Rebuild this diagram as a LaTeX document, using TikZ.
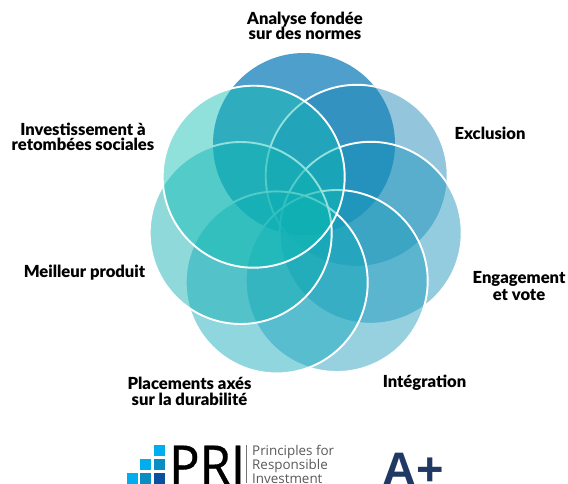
\documentclass[tikz,border=0pt]{standalone}
\usepackage{fontspec}
\setmainfont{Lato}[BoldFont={Lato Black}]
\newfontfamily\logofont{Open Sans}
\newfontfamily\prifont[FakeBold=0.6,FakeStretch=0.92]{Open Sans}
\newfontfamily\markfont{Liberation Sans}
\definecolor{cTop}{HTML}{4E9FCB}
\definecolor{cExcl}{HTML}{1483B5}
\definecolor{cEng}{HTML}{1492B9}
\definecolor{cInt}{HTML}{1D9BBC}
\definecolor{cPla}{HTML}{0EA6BA}
\definecolor{cMei}{HTML}{0CADB1}
\definecolor{cInv}{HTML}{0EBCB3}
\definecolor{sqA}{HTML}{00AEEF}
\definecolor{sqB}{HTML}{0A8CC4}
\definecolor{sqC}{HTML}{0B4FA0}
\definecolor{navy}{HTML}{1F3864}
\tikzset{
  petal/.style={circle,minimum size=182pt,inner sep=0pt,outer sep=0pt,draw=white,line width=1.9pt,fill=#1,fill opacity=.46},
  toppetal/.style={circle,minimum size=182pt,inner sep=0pt,outer sep=0pt,fill=cTop},
  lab/.style={font=\fontsize{16.6}{15.5}\bfseries,align=center,inner sep=0pt,text=black},
  sq/.style={minimum size=11pt,inner sep=0pt,outer sep=0pt,fill=#1},
  logotext/.style={font=\logofont\fontsize{13.4}{14}\selectfont,text=black!65,align=left,anchor=north west,inner sep=0pt}
}
\begin{document}
\begin{tikzpicture}[x=1pt,y=-1pt]
\useasboundingbox (0,0) rectangle (568,483);
\clip (0,0) rectangle (568,483);
\fill[white] (0,0) rectangle (568,483);
\node[toppetal] (ctop) at (304,144) {};
\node[petal=cExcl] (cexcl) at (356.7,175.8) {};
\node[petal=cEng] (ceng) at (370.7,232.8) {};
\node[petal=cInt] (cint) at (336.7,281) {};
\node[petal=cPla] (cpla) at (276.7,282.4) {};
\node[petal=cMei] (cmei) at (240.7,233) {};
\node[petal=cInv] (cinv) at (253.7,176.7) {};
\node[lab] (tana) at (305,26) {Analyse fondée\\sur des normes};
\node[lab] (texc) at (490,133) {Exclusion};
\node[lab] (tinv) at (83,137) {Investissement à\\retombées sociales};
\node[lab] (tmei) at (84.5,273) {Meilleur produit};
\node[lab] (tpla) at (189.5,391.5) {Placements axés\\sur la durabilité};
\node[lab] (tint) at (424.5,383) {Intégration};
\node[lab] (teng) at (519,286) {Engagement\\[2pt]et vote};
\node[sq=sqA] (s1) at (159.7,450) {};
\node[sq=sqA] (s2) at (145.8,464) {};
\node[sq=sqB] (s3) at (159.7,464) {};
\node[sq=sqA] (s4) at (132,478) {};
\node[sq=sqB] (s5) at (145.8,478) {};
\node[sq=sqC] (s6) at (159.7,478) {};
\node[font=\prifont\fontsize{55}{55}\selectfont,anchor=base west,inner sep=0pt] (pri) at (169,485) {PRI};
\draw[black!55,line width=.7pt] (246.7,445) -- (246.7,483);
\node[logotext] (ptext) at (252,445) {Principles for\\Responsible\\Investment};
\node[font=\markfont\bfseries\fontsize{47}{47}\selectfont,text=navy,anchor=base west,inner sep=0pt] (grade) at (382,485) {A+};
\end{tikzpicture}
\end{document}
